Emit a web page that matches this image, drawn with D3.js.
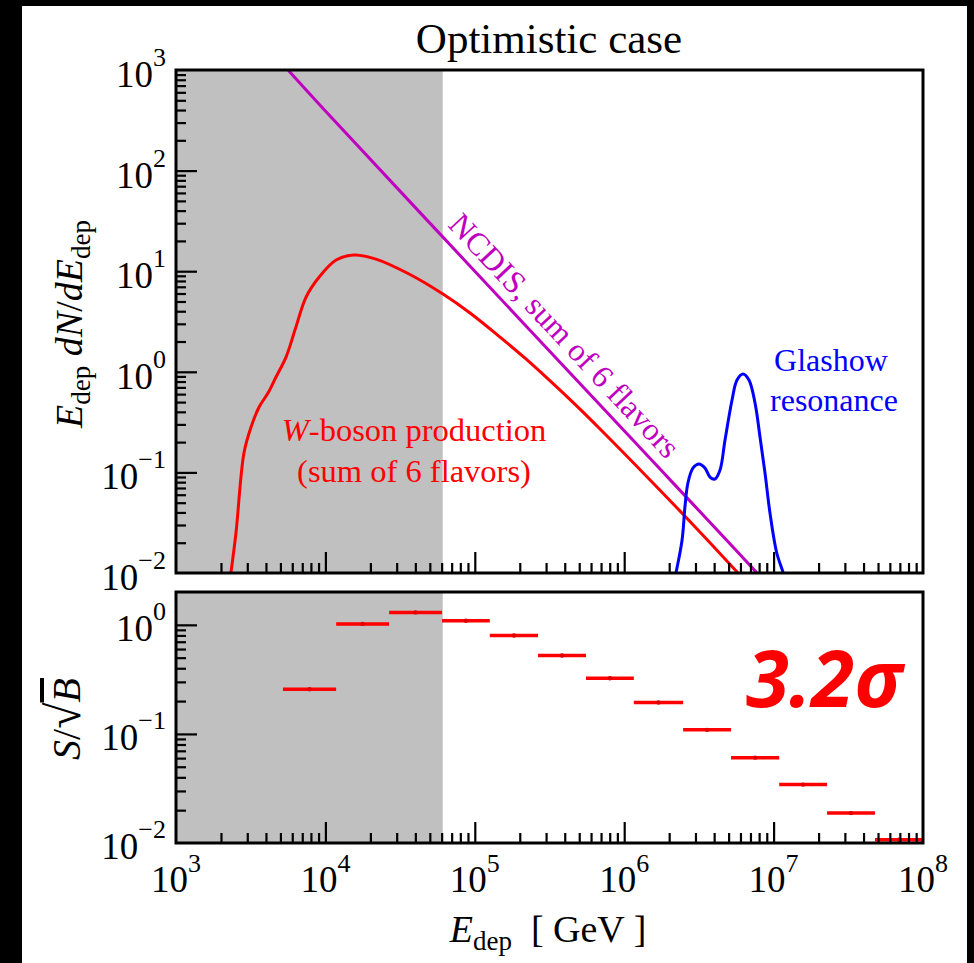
<!DOCTYPE html>
<html><head><meta charset="utf-8">
<script src="https://cdn.jsdelivr.net/npm/d3@7"></script>
<style>body{margin:0;background:#000}svg{display:block}</style>
</head><body><svg id="c" width="974" height="963"></svg>
<script>
// ---------- data ----------
// W-boson production (sum of 6 flavors)
const wE = [2.33e3, 2.52e3, 2.85e3, 3.18e3, 3.6e3, 4.13e3, 4.67e3, 5.45e3, 6.35e3, 7.41e3, 9.06e3, 1.18e4, 1.55e4, 2.18e4, 3.63e4, 6.12e4, 9.29e4, 1.476e5, 2.17e5, 3.18e5, 4.69e5, 6.89e5, 1.49e6, 3.21e6, 5.78e6];
const wY = [0.01, 0.025, 0.156, 0.283, 0.447, 0.615, 0.887, 1.40, 2.79, 5.5, 8.7, 12.9, 14.5, 13.2, 9.38, 5.93, 3.84, 2.21, 1.365, 0.816, 0.474, 0.270, 0.0841, 0.0256, 0.01];
// NCDIS, sum of 6 flavors
const nE = [4.82e3, 5.62e3, 1e4, 1e5, 1e6, 7.74e6, 8.5e6];
const nY = [1286, 1000, 391, 10.0, 0.259, 0.01, 0.0085];
// Glashow resonance
const gE = [2.15e6, 2.22e6, 2.44e6, 2.55e6, 2.67e6, 2.89e6, 3.17e6, 3.47e6, 3.75e6, 4.05e6, 4.38e6, 4.73e6, 5.27e6, 5.69e6, 6.24e6, 6.84e6, 7.51e6, 8.11e6, 8.76e6, 9.46e6, 1.05e7, 1.16e7, 1.2e7];
const gY = [0.008, 0.01, 0.0213, 0.0453, 0.0785, 0.1107, 0.1213, 0.1107, 0.090, 0.0859, 0.1057, 0.21, 0.525, 0.83, 0.95, 0.83, 0.49, 0.225, 0.0986, 0.0394, 0.0158, 0.01, 0.008];
// S/sqrt(B) per bin
const binEdges = [5.20e3, 1.18e4, 2.67e4, 6.03e4, 1.26e5, 2.65e5, 5.55e5, 1.16e6, 2.48e6, 5.19e6, 1.09e7, 2.28e7, 4.77e7, 1e8];
const sOverSqrtB = [0.257, 1.02, 1.30, 1.09, 0.798, 0.523, 0.324, 0.194, 0.109, 0.0606, 0.0343, 0.0188, 0.0107];
// threshold (grey band upper edge)
const shadeMax = 6.1e4;
const xTickExps = [3, 4, 5, 6, 7, 8];
const topTickExps = [3, 2, 1, 0, -1, -2];
const botTickExps = [0, -1, -2];
const significance = "3.2σ";

// ---------- layout ----------
const svg = d3.select("#c");
const X0 = 176, X1 = 923;
const T = {top: 70, bot: 573}, B = {top: 592, bot: 843};
const serif = "'Liberation Serif','Times New Roman',Times,serif";

svg.append("rect").attr("x", 22).attr("y", 6).attr("width", 945).attr("height", 957).attr("fill", "#fff");

const x = d3.scaleLog().domain([1e3, 1e8]).range([X0, X1]);
const yT = d3.scaleLog().domain([1e-2, 1e3]).range([T.bot, T.top]);
const yB = d3.scaleLog().domain([1e-2, 2]).range([B.bot, B.top]);

const defs = svg.append("defs");
defs.append("clipPath").attr("id", "clipT").append("rect").attr("x", X0).attr("y", T.top).attr("width", X1 - X0).attr("height", T.bot - T.top);
defs.append("clipPath").attr("id", "clipB").append("rect").attr("x", X0).attr("y", B.top).attr("width", X1 - X0).attr("height", B.bot - B.top);

// grey bands
[T, B].forEach(P => {
  svg.append("rect").attr("x", x(1e3)).attr("y", P.top).attr("width", x(shadeMax) - x(1e3)).attr("height", P.bot - P.top).attr("fill", "#c0c0c0");
});

// curves
const gTop = svg.append("g").attr("clip-path", "url(#clipT)");
const line = d3.line().x(d => x(d[0])).y(d => yT(d[1])).curve(d3.curveCatmullRom.alpha(0.5));
gTop.append("path").attr("d", line(nE.map((e, i) => [e, nY[i]]))).attr("fill", "none").attr("stroke", "#c000c0").attr("stroke-width", 3);
gTop.append("path").attr("d", line(wE.map((e, i) => [e, wY[i]]))).attr("fill", "none").attr("stroke", "#ff0000").attr("stroke-width", 3);
gTop.append("path").attr("d", line(gE.map((e, i) => [e, gY[i]]))).attr("fill", "none").attr("stroke", "#0000ff").attr("stroke-width", 3);

// bottom panel bins
const gBot = svg.append("g").attr("clip-path", "url(#clipB)");
sOverSqrtB.forEach((v, i) => {
  const e0 = binEdges[i], e1 = binEdges[i + 1];
  gBot.append("line").attr("x1", x(e0)).attr("x2", x(e1)).attr("y1", yB(v)).attr("y2", yB(v)).attr("stroke", "#ff0000").attr("stroke-width", 3.5);
  gBot.append("circle").attr("cx", x(Math.sqrt(e0 * e1))).attr("cy", yB(v)).attr("r", 2.2).attr("fill", "#e00000");
});

// axes: ticks inside
function minorVals(lo, hi) {
  const out = [];
  for (let p = lo; p < hi; p++) for (let m = 2; m <= 9; m++) out.push(m * Math.pow(10, p));
  return out;
}
function drawAxes(P, y, yLoExp, yHiExp) {
  const xMaj = d3.range(3, 9).map(p => Math.pow(10, p));
  const g = svg.append("g");
  g.append("g").attr("transform", `translate(0,${P.bot})`).call(d3.axisBottom(x).tickValues(xMaj.slice(1, -1)).tickSize(-21).tickFormat(""));
  g.append("g").attr("transform", `translate(0,${P.bot})`).call(d3.axisBottom(x).tickValues(minorVals(3, 8)).tickSize(-10).tickFormat(""));
  const yMaj = d3.range(yLoExp, yHiExp + 1).map(p => Math.pow(10, p)).filter(v => v > y.domain()[0] && v < y.domain()[1]);
  g.append("g").attr("transform", `translate(${X0},0)`).call(d3.axisLeft(y).tickValues(yMaj).tickSize(-21).tickFormat(""));
  g.append("g").attr("transform", `translate(${X0},0)`).call(d3.axisLeft(y).tickValues(minorVals(yLoExp, yHiExp + 1).filter(v => v < y.domain()[1])).tickSize(-10).tickFormat(""));
  g.selectAll(".domain").remove();
  g.selectAll(".tick line").attr("stroke", "#000").attr("stroke-width", 2.2);
  svg.append("rect").attr("x", X0).attr("y", P.top).attr("width", X1 - X0).attr("height", P.bot - P.top)
    .attr("fill", "none").attr("stroke", "#000").attr("stroke-width", 3);
}
drawAxes(T, yT, -2, 3);
drawAxes(B, yB, -2, 0);

function powLabel(px, py, exp, anchor, raise) {
  const t = svg.append("text").attr("x", px).attr("y", py).attr("text-anchor", anchor)
    .attr("font-family", serif).attr("font-size", 37).attr("fill", "#000");
  t.append("tspan").text("10");
  t.append("tspan").attr("dy", -raise).attr("font-size", 26).text(exp < 0 ? "\u2212" + (-exp) : String(exp));
}
topTickExps.forEach(p => powLabel(166, yT(Math.pow(10, p)) + 17, p, "end", 21));
botTickExps.forEach(p => powLabel(166, yB(Math.pow(10, p)) + 16, p, "end", 21));
xTickExps.forEach(p => powLabel(x(Math.pow(10, p)), 892, p, "middle", 20));

// title
svg.append("text").attr("x", 549).attr("y", 53).attr("text-anchor", "middle").attr("font-family", serif)
  .attr("font-size", 43).text("Optimistic case");

// x label
const xl = svg.append("text").attr("x", 548).attr("y", 942).attr("text-anchor", "middle").attr("font-family", serif)
  .attr("font-size", 38).style("white-space", "pre");
xl.append("tspan").attr("font-style", "italic").text("E");
xl.append("tspan").attr("font-size", 27).attr("dy", 8).text("dep");
xl.append("tspan").attr("dy", -8).text("  [ GeV ]");

// y label top
const yl = svg.append("text").attr("transform", "translate(82,324) rotate(-90)").attr("text-anchor", "middle")
  .attr("font-family", serif).attr("font-size", 38);
yl.append("tspan").attr("font-style", "italic").text("E");
yl.append("tspan").attr("font-size", 27).attr("dy", 8).text("dep");
yl.append("tspan").attr("dy", -8).attr("font-style", "italic").text(" dN");
yl.append("tspan").text("/");
yl.append("tspan").attr("font-style", "italic").text("dE");
yl.append("tspan").attr("font-size", 27).attr("dy", 8).text("dep");

// y label bottom S/sqrt(B)
const yl2 = svg.append("text").attr("transform", "translate(80,719) rotate(-90)").attr("text-anchor", "middle")
  .attr("font-family", serif).attr("font-size", 40);
yl2.append("tspan").attr("font-style", "italic").text("S");
yl2.append("tspan").text("/");
yl2.append("tspan").attr("font-size", 48).text("\u221A");
yl2.append("tspan").attr("font-style", "italic").style("text-decoration", "overline").text("B");

// annotations
svg.append("text").attr("x", 414).attr("y", 441).attr("text-anchor", "middle").attr("font-family", serif).attr("font-size", 32.5).attr("fill", "#ff0000")
  .call(t => { t.append("tspan").attr("font-style", "italic").text("W"); t.append("tspan").text("-boson production"); });
svg.append("text").attr("x", 414).attr("y", 482).attr("text-anchor", "middle").attr("font-family", serif).attr("font-size", 32.5).attr("fill", "#ff0000")
  .text("(sum of 6 flavors)");
svg.append("text").attr("x", 831).attr("y", 371).attr("text-anchor", "middle").attr("font-family", serif).attr("font-size", 32).attr("fill", "#0000ff").text("Glashow");
svg.append("text").attr("x", 834).attr("y", 411).attr("text-anchor", "middle").attr("font-family", serif).attr("font-size", 32).attr("fill", "#0000ff").text("resonance");
const ang = Math.atan2(yT(0.259) - yT(10), x(1e6) - x(1e5)) * 180 / Math.PI;
svg.append("text").attr("transform", `translate(${x(6.12e4) + 4},${yT(21) - 13}) rotate(${ang})`)
  .attr("font-family", serif).attr("font-size", 32).attr("fill", "#c000c0").text("NCDIS, sum of 6 flavors");

svg.append("text").attr("x", 746).attr("y", 707).attr("font-family", "'Open Sans',sans-serif").attr("font-weight", 700)
  .attr("font-style", "italic").attr("font-size", 78).attr("fill", "#ff0000").text(significance);
</script></body></html>
